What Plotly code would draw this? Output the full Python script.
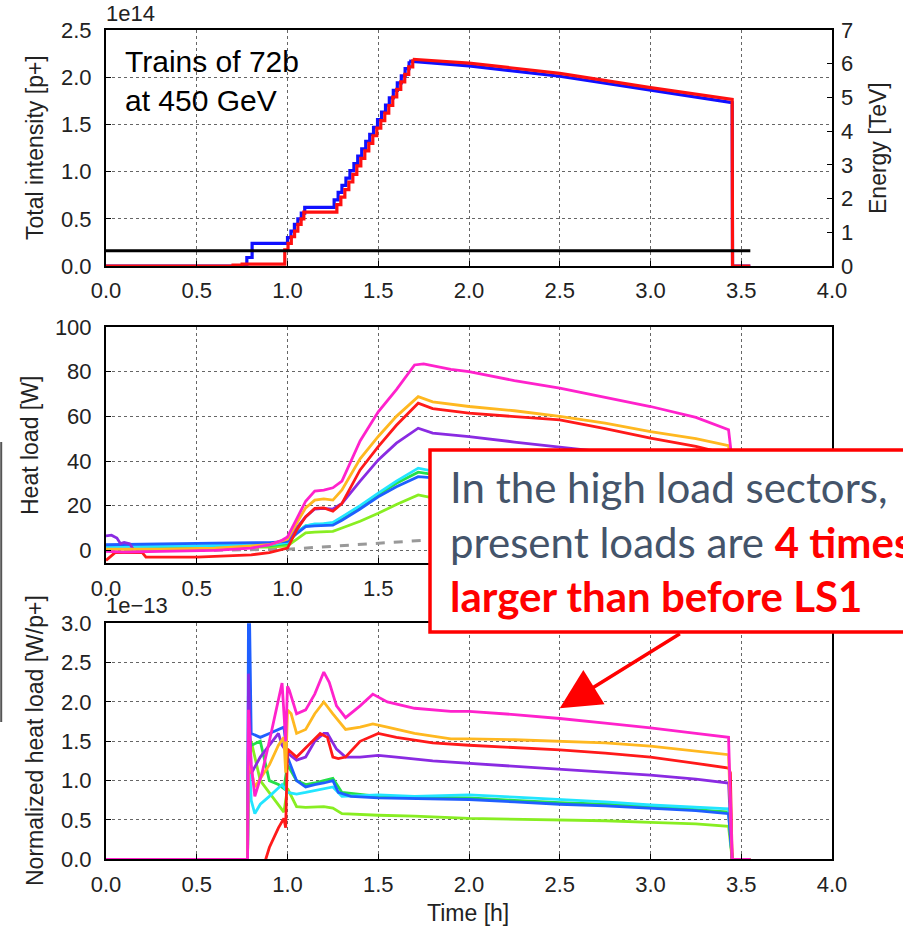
import plotly.graph_objects as go

W, H = 903, 931

# ---------------- Top panel: total intensity (x1e14) and energy ----------------
blue_ramp_t = [0.0, 0.776, 0.805, 1.000, 1.019, 1.038, 1.057, 1.076, 1.095,
               1.257, 1.279, 1.300, 1.322, 1.344, 1.366, 1.387, 1.409, 1.431, 1.453,
               1.474, 1.496, 1.518, 1.540, 1.561, 1.583, 1.605, 1.627, 1.648, 1.670]
blue_ramp_v = [0.0, 0.09, 0.24, 0.30, 0.37, 0.44, 0.50, 0.56, 0.62,
               0.70, 0.78, 0.855, 0.93, 1.01, 1.085, 1.165, 1.24, 1.32, 1.395,
               1.47, 1.55, 1.63, 1.705, 1.78, 1.86, 1.94, 2.015, 2.09, 2.17]
blue_decay_t = [1.670, 2.0, 2.5, 3.0, 3.45, 3.452, 3.55]
blue_decay_v = [2.17, 2.12, 2.01, 1.86, 1.73, 0.0, 0.0]

red_ramp_t = [0.0, 0.70, 0.75, 0.985, 1.003, 1.021, 1.039, 1.057, 1.075, 1.090,
              1.272, 1.294, 1.316, 1.338, 1.360, 1.382, 1.404, 1.426, 1.448, 1.470,
              1.492, 1.514, 1.536, 1.558, 1.580, 1.602, 1.624, 1.646, 1.668, 1.690]
red_ramp_v = [0.0, 0.01, 0.02, 0.17, 0.24, 0.31, 0.37, 0.44, 0.50, 0.57,
              0.65, 0.73, 0.81, 0.89, 0.97, 1.06, 1.14, 1.22, 1.30, 1.38,
              1.46, 1.54, 1.62, 1.70, 1.79, 1.87, 1.95, 2.03, 2.11, 2.19]
red_decay_t = [1.690, 2.0, 2.5, 3.0, 3.45, 3.452, 3.55]
red_decay_v = [2.19, 2.15, 2.04, 1.89, 1.765, 0.0, 0.0]

energy_t = [0.0, 3.55]
energy_v = [0.45, 0.45]

# ---------------- Middle panel: heat load [W] ----------------
hl_t_a = [0.0, 0.1, 0.3, 0.6, 0.8, 0.9, 0.97, 1.0, 1.05, 1.1, 1.15, 1.2, 1.25, 1.3, 1.4,
          1.5, 1.6, 1.7, 1.75, 1.9, 2.0, 2.25, 2.5, 2.75, 3.0, 3.25, 3.43, 3.45, 3.47, 3.55]
hl_magenta = [-0.5, -0.8, -0.5, 0.0, 1.0, 2.5, 4.5, 6.0, 14, 22, 26.5, 27, 28, 31, 49,
              62, 72, 83, 83.5, 81, 80, 76, 72.6, 68.5, 64.4, 59.5, 54, 40, 0, 0]

hl_t_o = [0.0, 0.3, 0.6, 0.9, 1.0, 1.05, 1.1, 1.15, 1.2, 1.25, 1.3, 1.4, 1.5, 1.6, 1.72,
          1.8, 2.0, 2.25, 2.5, 2.75, 3.0, 3.25, 3.43, 3.45, 3.47, 3.55]
hl_orange = [0.5, 0.5, 1.0, 2.5, 5, 12, 19, 22.5, 23, 22.5, 27, 41, 51, 60, 68.8,
             66.5, 64.4, 62.5, 60, 57, 53.2, 50, 46.9, 30, 0, 0]

hl_t_r = [0.0, 0.02, 0.05, 0.1, 0.2, 0.22, 0.5, 0.8, 0.9, 1.0, 1.05, 1.1, 1.15, 1.2, 1.25,
          1.3, 1.4, 1.5, 1.6, 1.72, 1.8, 2.0, 2.25, 2.5, 2.75, 3.0, 3.25, 3.43, 3.45, 3.47, 3.55]
hl_red = [-4.5, -3.0, -1.0, -1.0, -1.0, -3.0, -3.0, -2.0, -1.0, 1.0, 9, 15, 18.8, 19, 17.5,
          21, 36, 46.4, 56, 65.9, 63.5, 61.4, 60, 58.4, 54.5, 50.2, 46.5, 43, 30, 0, 0]

hl_t_p = [0.0, 0.03, 0.06, 0.08, 0.1, 0.13, 0.15, 0.3, 0.6, 0.9, 1.0, 1.05, 1.1, 1.15, 1.2,
          1.25, 1.3, 1.4, 1.5, 1.6, 1.72, 1.8, 2.0, 2.25, 2.5, 2.75, 3.0, 3.25, 3.43, 3.45, 3.47, 3.55]
hl_purple = [6.5, 6.8, 5.5, 3.0, 3.5, 3.0, 0.5, 0.0, 0.5, 2.5, 5, 10, 15, 18.5, 18.8,
             18.5, 21, 31, 40.5, 48, 54.7, 52.5, 50.9, 48.5, 46.4, 44, 41.5, 39, 37, 25, 0, 0]

hl_t_c = [0.0, 0.3, 0.6, 0.9, 1.0, 1.05, 1.1, 1.15, 1.2, 1.25, 1.3, 1.4, 1.5, 1.6, 1.72,
          1.8, 2.0, 2.5, 3.0, 3.43, 3.45, 3.47, 3.55]
hl_cyan = [1.5, 1.8, 2.0, 2.5, 3.5, 8, 11, 11.8, 12, 12.5, 15, 20, 25.6, 31, 36.8,
           35.5, 34, 31, 28, 25, 15, 0, 0]
hl_green = [1.0, 1.2, 1.5, 2.0, 3.0, 8, 11, 11.5, 11.8, 12, 14.5, 19.5, 25, 30, 35,
            34, 32.5, 29.5, 26.5, 24, 14, 0, 0]
hl_blue = [2.5, 3.0, 3.2, 3.5, 4.0, 7.5, 10.6, 11, 11.2, 11.3, 13.5, 18.5, 24, 28.5, 33,
           32.5, 31, 28, 25.5, 23, 13, 0, 0]
hl_lgreen = [0.8, 1.0, 1.2, 1.5, 2.0, 5, 7.8, 8.2, 8.3, 8.5, 10, 13, 16.6, 20.5, 24.8,
             23.5, 22, 19.5, 17, 15, 9, 0, 0]

hl_t_g = [0.0, 0.5, 1.0, 1.75, 2.0, 2.5, 3.0, 3.45, 3.47, 3.55]
hl_gray = [0.0, 0.0, 0.5, 4.5, 5.0, 5.5, 5.5, 5.5, 0.0, 0.0]

# ---------------- Bottom panel: normalized heat load (x1e-13) ----------------
nh_t_m = [0, 0.78, 0.785, 0.80, 0.82, 0.86, 0.9, 0.95, 0.97, 0.99, 1.0, 1.01, 1.05, 1.1, 1.15,
          1.2, 1.23, 1.27, 1.32, 1.4, 1.47, 1.55, 1.7, 1.9, 2.0, 2.25, 2.5, 2.75, 3.0, 3.25,
          3.43, 3.45, 3.55]
nh_magenta = [0, 0, 1.9, 1.2, 0.8, 1.1, 1.5, 2.0, 2.24, 1.5, 2.2, 2.15, 1.85, 1.9, 2.1,
              2.38, 2.25, 1.95, 1.8, 1.95, 2.1, 2.0, 1.92, 1.88, 1.88, 1.84, 1.79, 1.73, 1.67, 1.6,
              1.55, 0, 0]

nh_t_o = [0, 0.78, 0.785, 0.82, 0.9, 0.95, 0.98, 0.99, 1.0, 1.02, 1.05, 1.1, 1.15, 1.2, 1.25,
          1.32, 1.4, 1.47, 1.55, 1.7, 1.9, 2.0, 2.25, 2.5, 2.75, 3.0, 3.25, 3.43, 3.45, 3.55]
nh_orange = [0, 0, 1.3, 0.92, 1.2, 1.45, 1.55, 1.1, 1.9, 1.85, 1.6, 1.65, 1.85, 2.0, 1.85,
             1.65, 1.68, 1.72, 1.68, 1.6, 1.53, 1.53, 1.52, 1.5, 1.48, 1.44, 1.38, 1.33, 0, 0]

nh_t_r = [0, 0.78, 0.79, 0.87, 0.88, 0.9, 0.95, 0.98, 0.99, 1.0, 1.05, 1.08, 1.12, 1.18, 1.22,
          1.25, 1.28, 1.32, 1.4, 1.5, 1.6, 1.8, 2.0, 2.25, 2.5, 2.75, 3.0, 3.25, 3.43, 3.44,
          3.45, 3.55]
nh_red = [0, 0, -0.3, -0.3, 0.0, 0.15, 0.4, 0.52, 0.4, 1.4, 1.3, 1.37, 1.45, 1.6, 1.55,
          1.3, 1.28, 1.3, 1.5, 1.6, 1.55, 1.48, 1.45, 1.42, 1.39, 1.35, 1.3, 1.22, 1.16, 1.1,
          0, 0]

nh_t_p = [0, 0.78, 0.785, 0.80, 0.85, 0.9, 0.95, 0.97, 1.0, 1.05, 1.1, 1.15, 1.2, 1.22, 1.27,
          1.32, 1.4, 1.5, 1.6, 1.8, 2.0, 2.25, 2.5, 2.75, 3.0, 3.25, 3.43, 3.45, 3.55]
nh_purple = [0, 0, 2.36, 1.09, 1.3, 1.45, 1.6, 1.45, 1.35, 1.26, 1.3, 1.5, 1.6, 1.6, 1.4,
             1.3, 1.3, 1.32, 1.3, 1.25, 1.22, 1.18, 1.14, 1.1, 1.07, 1.02, 0.97, 0, 0]

nh_t_b = [0, 0.78, 0.785, 0.79, 0.80, 0.85, 0.9, 0.95, 0.98, 1.0, 1.05, 1.1, 1.15, 1.2, 1.25,
          1.28, 1.35, 1.5, 1.7, 2.0, 2.25, 2.5, 2.75, 3.0, 3.25, 3.43, 3.45, 3.55]
nh_blue = [0, 0, 3.2, 3.2, 1.6, 1.55, 1.6, 1.65, 1.68, 1.3, 1.0, 0.92, 0.95, 0.97, 1.0,
           0.85, 0.8, 0.78, 0.77, 0.76, 0.73, 0.7, 0.68, 0.65, 0.62, 0.58, 0, 0]

nh_t_c = [0, 0.78, 0.785, 0.80, 0.82, 0.85, 0.9, 0.95, 0.97, 1.0, 1.05, 1.1, 1.2, 1.25, 1.3,
          1.5, 1.7, 2.0, 2.25, 2.5, 2.75, 3.0, 3.25, 3.43, 3.45, 3.55]
nh_cyan = [0, 0, 1.5, 0.75, 0.58, 0.7, 0.8, 0.9, 0.95, 0.85, 0.83, 0.85, 0.9, 0.92, 0.8,
           0.82, 0.8, 0.82, 0.79, 0.76, 0.73, 0.69, 0.66, 0.64, 0, 0]

nh_t_g = [0, 0.78, 0.785, 0.80, 0.85, 0.9, 0.95, 0.98, 1.0, 1.05, 1.1, 1.15, 1.2, 1.25, 1.3,
          1.5, 1.7, 2.0, 2.25, 2.5, 2.75, 3.0, 3.25, 3.43, 3.45, 3.55]
nh_green = [0, 0, 1.6, 1.45, 1.5, 1.0, 0.95, 0.9, 1.2, 1.0, 0.95, 0.97, 1.0, 1.03, 0.85,
            0.8, 0.79, 0.78, 0.75, 0.72, 0.7, 0.67, 0.63, 0.6, 0, 0]

nh_t_l = [0, 0.78, 0.785, 0.80, 0.85, 0.9, 0.95, 0.98, 1.0, 1.05, 1.1, 1.2, 1.25, 1.3, 1.5,
          1.7, 2.0, 2.25, 2.5, 2.75, 3.0, 3.25, 3.43, 3.45, 3.55]
nh_lgreen = [0, 0, 1.4, 1.5, 1.0, 0.85, 0.7, 0.6, 0.9, 0.67, 0.66, 0.67, 0.65, 0.58, 0.56,
             0.55, 0.52, 0.51, 0.5, 0.49, 0.47, 0.45, 0.42, 0, 0]

x_ticks = [0.0, 0.5, 1.0, 1.5, 2.0, 2.5, 3.0, 3.5, 4.0]

C_MAG = "#ff22cc"
C_ORA = "#ffb820"
C_RED = "#ff1a1a"
C_PUR = "#8a2be2"
C_CYA = "#22e5ff"
C_GRN = "#25e04a"
C_BLU = "#1f5fff"
C_LGR = "#88ee22"

# ---------------- geometry (pixels -> paper) ----------------
def px(x):
    return x / W

def py(y):
    return 1 - y / H

XDOM = [px(106), px(832)]
TOP = [py(266), py(30)]
MID = [py(563.3), py(327)]
BOT = [py(859.3), py(623.3)]

fig = go.Figure()

LW = 2.8

def add(x, y, color, xa, ya, width=LW, dash=None, shape="linear"):
    fig.add_trace(go.Scatter(x=x, y=y, mode="lines", xaxis=xa, yaxis=ya,
                             line=dict(color=color, width=width, dash=dash, shape=shape),
                             showlegend=False, hoverinfo="skip"))

# top
add(energy_t, energy_v, "black", "x", "y4", width=3)
add(blue_ramp_t, blue_ramp_v, "#1010ff", "x", "y", width=3.2, shape="hv")
add(blue_decay_t, blue_decay_v, "#1010ff", "x", "y", width=3.2)
add(red_ramp_t, red_ramp_v, "#ff1010", "x", "y", width=3.2, shape="hv")
add(red_decay_t, red_decay_v, "#ff1010", "x", "y", width=3.2)

# middle
add(hl_t_g, hl_gray, "#999999", "x2", "y2", width=3, dash="dash")
add(hl_t_c, hl_lgreen, C_LGR, "x2", "y2")
add(hl_t_c, hl_green, C_GRN, "x2", "y2")
add(hl_t_c, hl_cyan, C_CYA, "x2", "y2")
add(hl_t_c, hl_blue, C_BLU, "x2", "y2")
add(hl_t_p, hl_purple, C_PUR, "x2", "y2")
add(hl_t_r, hl_red, C_RED, "x2", "y2")
add(hl_t_o, hl_orange, C_ORA, "x2", "y2")
add(hl_t_a, hl_magenta, C_MAG, "x2", "y2")

# bottom
add(nh_t_l, nh_lgreen, C_LGR, "x3", "y3")
add(nh_t_g, nh_green, C_GRN, "x3", "y3")
add(nh_t_c, nh_cyan, C_CYA, "x3", "y3")
add(nh_t_b, nh_blue, C_BLU, "x3", "y3")
add(nh_t_p, nh_purple, C_PUR, "x3", "y3")
add(nh_t_r, nh_red, C_RED, "x3", "y3")
add(nh_t_o, nh_orange, C_ORA, "x3", "y3")
add(nh_t_m, nh_magenta, C_MAG, "x3", "y3")

TICKFONT = dict(family="Liberation Sans, Arial", size=22, color="#222222")
common_x = dict(domain=XDOM, range=[0, 4], tickvals=x_ticks, tickformat=".1f",
                showgrid=True, gridcolor="#666666", griddash="dot", gridwidth=1,
                showline=True, linecolor="black", linewidth=2, mirror=True,
                ticks="inside", ticklen=5, tickcolor="black", automargin=False,
                tickfont=TICKFONT, zeroline=False, ticklabelstandoff=4)
common_y = dict(showgrid=True, gridcolor="#666666", griddash="dot", gridwidth=1,
                showline=True, linecolor="black", linewidth=2, mirror=True,
                ticks="inside", ticklen=5, tickcolor="black", automargin=False,
                tickfont=TICKFONT, zeroline=False, ticklabelstandoff=8)

fig.update_layout(
    width=W, height=H,
    margin=dict(l=0, r=0, t=0, b=0, autoexpand=False),
    paper_bgcolor="white", plot_bgcolor="white",
    xaxis=dict(common_x, anchor="y"),
    xaxis2=dict(common_x, anchor="y2"),
    xaxis3=dict(common_x, anchor="y3"),
    yaxis=dict(common_y, domain=TOP, anchor="x", range=[0, 2.5], dtick=0.5, tickformat=".1f"),
    yaxis2=dict(common_y, domain=MID, anchor="x2", range=[-5.8, 100], tickvals=[0, 20, 40, 60, 80, 100]),
    yaxis3=dict(common_y, domain=BOT, anchor="x3", range=[0, 3.0], dtick=0.5, tickformat=".1f"),
    yaxis4=dict(overlaying="y", side="right", anchor="x", range=[0, 7], dtick=1,
                showgrid=False, zeroline=False, showline=False, automargin=False,
                ticks="inside", ticklen=5, tickcolor="black",
                tickfont=TICKFONT, ticklabelstandoff=8),
)

TF = dict(family="Liberation Sans, Arial", size=23, color="#222222")
ann = []
ann.append(dict(text="Total intensity [p+]", x=px(35), y=py(148), textangle=-90, font=TF))
ann.append(dict(text="Heat load [W]", x=px(30), y=py(446), textangle=-90, font=TF))
ann.append(dict(text="Normalized heat load [W/p+]", x=px(35), y=py(741), textangle=-90, font=TF))
ann.append(dict(text="Energy [TeV]", x=px(878), y=py(148), textangle=-90, font=TF))
ann.append(dict(text="Time [h]", x=px(468), y=py(913), font=TF))
ann.append(dict(text="1e14", x=px(104), y=py(28), xanchor="left", yanchor="bottom",
                font=dict(TICKFONT)))
ann.append(dict(text="1e\u221213", x=px(104), y=py(620), xanchor="left", yanchor="bottom",
                font=dict(TICKFONT)))
ann.append(dict(text="Trains of 72b<br>at 450 GeV", x=px(123), y=py(81), xanchor="left",
                yanchor="middle", align="left",
                font=dict(family="Liberation Sans, Arial", size=30, color="black")))
for a in ann:
    a.setdefault("xref", "paper")
    a.setdefault("yref", "paper")
    a.setdefault("showarrow", False)
    a.setdefault("xanchor", "center")
    a.setdefault("yanchor", "middle")

# callout text
ann.append(dict(
    xref="paper", yref="paper", x=px(448), y=py(541), xanchor="left", yanchor="middle",
    showarrow=False, align="left",
    text=("In the high load sectors,<br>present loads are "
          "<span style='color:#ff0000'><b>4 times</b></span><br>"
          "<span style='color:#ff0000'><b>larger than before LS1</b></span>"),
    font=dict(family="Lato", size=42, color="#44546a"),
))
# callout arrow
ann.append(dict(
    xref="x3", yref="y3", x=2.5, y=1.92, axref="x3", ayref="y3", ax=3.17, ay=2.88,
    text="", showarrow=True, arrowhead=2, arrowsize=2.3, arrowwidth=3.5, arrowcolor="#ff0000",
))
fig.update_layout(annotations=ann)

fig.update_layout(shapes=[
    dict(type="rect", xref="paper", yref="paper", x0=px(430), x1=px(930), y0=py(632), y1=py(450),
         line=dict(color="#ff0000", width=3.5), fillcolor="white", layer="above"),
    dict(type="line", xref="paper", yref="paper", x0=px(1.2), x1=px(1.2), y0=py(442), y1=py(722),
         line=dict(color="#555555", width=2), layer="above"),
])

fig.write_html("out.html")
